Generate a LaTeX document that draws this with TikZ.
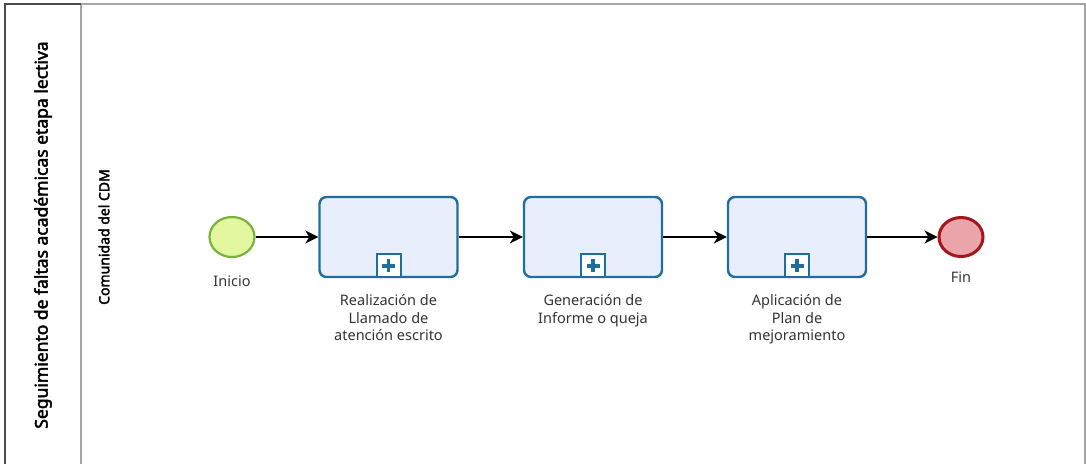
\documentclass[tikz,border=0pt]{standalone}
\usepackage{fontspec}
\setmainfont{Noto Sans}[AutoFakeBold=2.6]
\usetikzlibrary{arrows.meta,shapes.geometric}
\definecolor{taskfill}{HTML}{E8EEFC}
\definecolor{taskline}{HTML}{1F6E9C}
\definecolor{startfill}{HTML}{E3F7A0}
\definecolor{startline}{HTML}{78B43C}
\definecolor{endfill}{HTML}{EBA5AA}
\definecolor{endline}{HTML}{A3161C}
\definecolor{txt}{HTML}{333333}
\tikzset{
  taskbox/.style={draw=taskline, fill=taskfill, line width=2.4pt, rounded corners=7pt,
    minimum width=138pt, minimum height=80pt, inner sep=0pt},
  marker/.style={draw=taskline, fill=white, line width=2pt, minimum width=24pt, minimum height=23pt, inner sep=0pt},
  startev/.style={ellipse, draw=startline, fill=startfill, line width=2.2pt, minimum width=45pt, minimum height=40pt, inner sep=0pt},
  endev/.style={ellipse, draw=endline, fill=endfill, line width=3pt, minimum width=44pt, minimum height=39pt, inner sep=0pt},
  flow/.style={line width=1.2pt, -{Stealth[length=13pt,width=13pt,inset=4pt]}},
  lbl/.style={text=txt, font=\fontsize{14.5}{17.5}\selectfont, align=center},
  poolline/.style={draw=black!70, line width=1.6pt},
  laneline/.style={draw=black!35, line width=1.4pt}
}
\begin{document}
\begin{tikzpicture}[x=1pt,y=-1pt]
\useasboundingbox (0,0) rectangle (1086,464);
% frame
\draw[laneline] (81,4) -- (1085,4) -- (1085,464);
\draw[laneline] (81,4) -- (81,464);
\draw[poolline] (5,464) -- (5,4) -- (81,4);
\node[rotate=90, font=\bfseries\fontsize{17.5}{20}\selectfont] (pool) at (43,235) {Seguimiento de faltas académicas etapa lectiva};
\node[rotate=90, font=\bfseries\fontsize{14}{16}\selectfont] (lane) at (104,237) {Comunidad del CDM};
% events
\node[startev] (start) at (232,237) {};
\node[endev] (end) at (961,237) {};
\node[lbl, anchor=north] (startlbl) at (232,272) {Inicio};
\node[lbl, anchor=north] (endlbl) at (961,268) {Fin};
% tasks
\node[taskbox] (t1) at (388.5,237) {};
\node[taskbox] (t2) at (593,237) {};
\node[taskbox] (t3) at (797,237) {};
\foreach \t in {t1,t2,t3}{
  \node[marker, anchor=south] (\t m) at (\t.south) {};
  \draw[taskline, line width=3.6pt] ([xshift=-6.5pt]\t m.center) -- ([xshift=6.5pt]\t m.center);
  \draw[taskline, line width=3.6pt] ([yshift=-6.5pt]\t m.center) -- ([yshift=6.5pt]\t m.center);
}
\node[lbl, anchor=north] (l1) at (388.5,291) {Realización de\\Llamado de\\atención escrito};
\node[lbl, anchor=north] (l2) at (593,291) {Generación de\\Informe o queja};
\node[lbl, anchor=north] (l3) at (797,291) {Aplicación de\\Plan de\\mejoramiento};
% flows
\draw[flow] (start) -- (t1);
\draw[flow] (t1) -- (t2);
\draw[flow] (t2) -- (t3);
\draw[flow] (t3) -- (end);
\end{tikzpicture}
\end{document}
